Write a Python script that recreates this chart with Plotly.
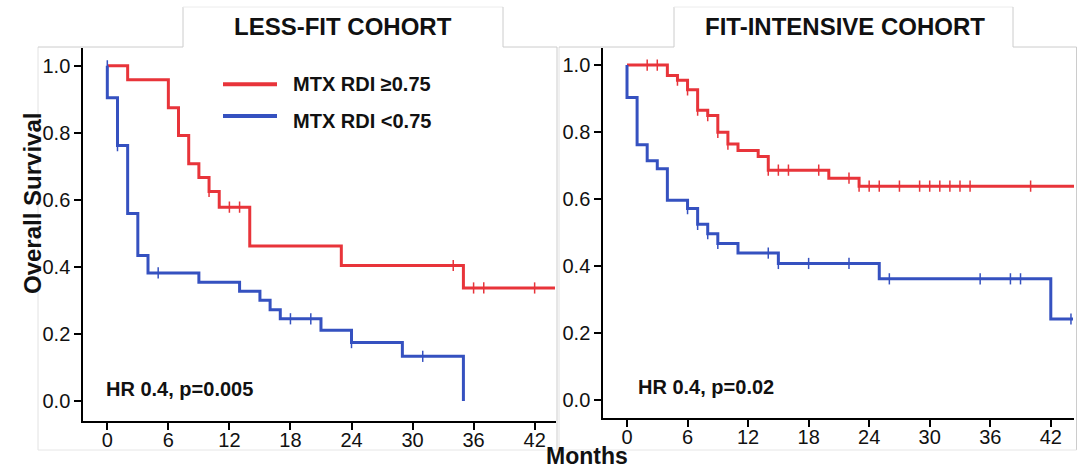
import plotly.graph_objects as go

W, H = 1084, 471

# ---------------- data ----------------
month_ticks = [0, 6, 12, 18, 24, 30, 36, 42]
surv_ticks = [0.0, 0.2, 0.4, 0.6, 0.8, 1.0]
surv_tick_labels = ["0.0", "0.2", "0.4", "0.6", "0.8", "1.0"]

series_names = ["MTX RDI \u22650.75", "MTX RDI <0.75"]
panel_titles = ["LESS-FIT COHORT", "FIT-INTENSIVE COHORT"]
hr_labels = ["HR 0.4, p=0.005", "HR 0.4, p=0.02"]
x_title = "Months"
y_title = "Overall Survival"

# Less-fit cohort, MTX RDI >= 0.75
lf_hi_t = [0, 2, 6, 7, 8, 9, 10, 11, 14, 23, 35, 44]
lf_hi_s = [1.0, 0.958, 0.875, 0.792, 0.708, 0.667, 0.625, 0.578, 0.462, 0.404, 0.337, 0.337]
lf_hi_cens_t = [10, 12, 13, 34, 36, 37, 42]
lf_hi_cens_s = [0.625, 0.578, 0.578, 0.404, 0.337, 0.337, 0.337]

# Less-fit cohort, MTX RDI < 0.75
lf_lo_t = [0, 0, 1, 2, 3, 4, 9, 13, 15, 16, 17, 21, 24, 29, 35]
lf_lo_s = [1.0, 0.905, 0.762, 0.559, 0.434, 0.382, 0.354, 0.327, 0.300, 0.272, 0.245, 0.211, 0.174, 0.133, 0.0]
lf_lo_cens_t = [0, 1, 5, 18, 20, 24, 31]
lf_lo_cens_s = [1.0, 0.762, 0.382, 0.245, 0.245, 0.174, 0.133]

# Fit-intensive cohort, MTX RDI >= 0.75
fi_hi_t = [0, 4, 5, 6, 7, 8, 9, 10, 11, 13, 14, 20, 23, 44.3]
fi_hi_s = [1.0, 0.969, 0.955, 0.926, 0.865, 0.849, 0.799, 0.764, 0.745, 0.727, 0.686, 0.662, 0.638, 0.638]
fi_hi_cens_t = [2, 3, 5, 6, 7, 8, 9, 10, 14, 15, 16, 19, 22, 23, 24, 25, 27, 29, 30, 31, 32, 33, 34, 40]
fi_hi_cens_s = [1.0, 1.0, 0.955, 0.926, 0.865, 0.849, 0.799, 0.764, 0.686, 0.686, 0.686, 0.686, 0.662,
                0.638, 0.638, 0.638, 0.638, 0.638, 0.638, 0.638, 0.638, 0.638, 0.638, 0.638]

# Fit-intensive cohort, MTX RDI < 0.75
fi_lo_t = [0, 0, 1, 2, 3, 4, 6, 7, 8, 9, 11, 15, 25, 42, 44.2]
fi_lo_s = [1.0, 0.903, 0.762, 0.714, 0.690, 0.596, 0.571, 0.524, 0.496, 0.467, 0.438, 0.407, 0.361, 0.241, 0.241]
fi_lo_cens_t = [6, 7, 8, 9, 14, 15, 18, 22, 26, 35, 38, 39, 44]
fi_lo_cens_s = [0.571, 0.524, 0.496, 0.467, 0.438, 0.407, 0.407, 0.407, 0.361, 0.361, 0.361, 0.361, 0.241]

# ---------------- style ----------------
RED = "#E8343A"
BLUE = "#3551C0"
FONT = "Liberation Sans, Arial, sans-serif"
BORDER = "#cccccc"


def px(x):
    return x / W


def py(y):
    return 1 - y / H


fig = go.Figure()

curves = [
    ("x", "y", lf_hi_t, lf_hi_s, lf_hi_cens_t, lf_hi_cens_s, RED),
    ("x", "y", lf_lo_t, lf_lo_s, lf_lo_cens_t, lf_lo_cens_s, BLUE),
    ("x2", "y2", fi_hi_t, fi_hi_s, fi_hi_cens_t, fi_hi_cens_s, RED),
    ("x2", "y2", fi_lo_t, fi_lo_s, fi_lo_cens_t, fi_lo_cens_s, BLUE),
]
for xa, ya, t, s, ct, cs, col in curves:
    fig.add_trace(go.Scatter(x=t, y=s, xaxis=xa, yaxis=ya, mode="lines",
                             line=dict(color=col, width=3, shape="hv"),
                             showlegend=False, hoverinfo="skip"))
    fig.add_trace(go.Scatter(x=ct, y=cs, xaxis=xa, yaxis=ya, mode="markers",
                             marker=dict(symbol="line-ns-open", size=8, color=col,
                                         line=dict(color=col, width=1.5)),
                             showlegend=False, hoverinfo="skip"))

axis_common = dict(showline=True, linewidth=2, linecolor="black", showgrid=False,
                   zeroline=False, ticks="outside", ticklen=7, tickwidth=1.5,
                   tickcolor="black", tickfont=dict(family=FONT, size=20, color="#111"))

fig.update_layout(
    width=W, height=H, margin=dict(l=0, r=0, t=0, b=0),
    paper_bgcolor="white", plot_bgcolor="white", showlegend=False,
    xaxis=dict(domain=[px(83.3), px(556)], range=[-2.36, 44.1], tickvals=month_ticks,
               anchor="y", ticklabelstandoff=-7, **axis_common),
    yaxis=dict(domain=[py(421), py(47.7)], range=[-0.06, 1.054], tickvals=surv_ticks,
               ticktext=surv_tick_labels, anchor="x", **axis_common),
    xaxis2=dict(domain=[px(603.3), px(1074)], range=[-2.35, 44.3], tickvals=month_ticks,
                anchor="y2", ticklabelstandoff=-7, **axis_common),
    yaxis2=dict(domain=[py(418), py(47.7)], range=[-0.055, 1.052], tickvals=surv_ticks,
                ticktext=surv_tick_labels, anchor="x2", **axis_common),
)

# panel frames with title tabs
panels = [(38, 557, 183, 503), (559, 1076.5, 674, 1013)]
for (l, r, tl, tr) in panels:
    segs = [(l, 450, l, 47, "#e2e2e2"), (l, 47, tl, 47, BORDER), (tl, 47, tl, 7, BORDER),
            (tl, 7, tr, 7, "#ececec"), (tr, 7, tr, 47, BORDER), (tr, 47, r, 47, BORDER),
            (r, 47, r, 450, BORDER), (l, 450, r, 450, "#e6e6e6")]
    for x0, y0, x1, y1, c in segs:
        fig.add_shape(type="line", xref="paper", yref="paper", x0=px(x0), y0=py(y0),
                      x1=px(x1), y1=py(y1), line=dict(color=c, width=1))

# legend
leg = [(84.3, 84, RED, series_names[0]), (116, 121, BLUE, series_names[1])]
for ly, ty, col, name in leg:
    fig.add_shape(type="line", xref="paper", yref="paper", x0=px(223), x1=px(277),
                  y0=py(ly), y1=py(ly), line=dict(color=col, width=4))
    fig.add_annotation(xref="paper", yref="paper", x=px(291), y=py(ty), text=name,
                       showarrow=False, xanchor="left", yanchor="middle",
                       font=dict(family=FONT, size=20, color="#111", weight="bold"))

# titles
for cx, title in [(343, panel_titles[0]), (845, panel_titles[1])]:
    fig.add_annotation(xref="paper", yref="paper", x=px(cx), y=py(27), text=title,
                       showarrow=False, xanchor="center", yanchor="middle",
                       font=dict(family=FONT, size=24, color="#111", weight="bold"))

# HR labels
for x0, y0, lab in [(104, 389, hr_labels[0]), (636, 387, hr_labels[1])]:
    fig.add_annotation(xref="paper", yref="paper", x=px(x0), y=py(y0), text=lab,
                       showarrow=False, xanchor="left", yanchor="middle",
                       font=dict(family=FONT, size=20, color="#111", weight="bold"))

# axis titles (sits between the two panels' tick labels, as in the reference)
fig.add_annotation(xref="paper", yref="paper", x=px(587), y=py(456), text=x_title,
                   showarrow=False, xanchor="center", yanchor="middle",
                   font=dict(family=FONT, size=23, color="#111", weight="bold"))
fig.add_annotation(xref="paper", yref="paper", x=px(32), y=py(204), text=y_title,
                   showarrow=False, xanchor="center", yanchor="middle", textangle=-90,
                   font=dict(family=FONT, size=24, color="#111", weight="bold"))

fig.write_html("out.html")
